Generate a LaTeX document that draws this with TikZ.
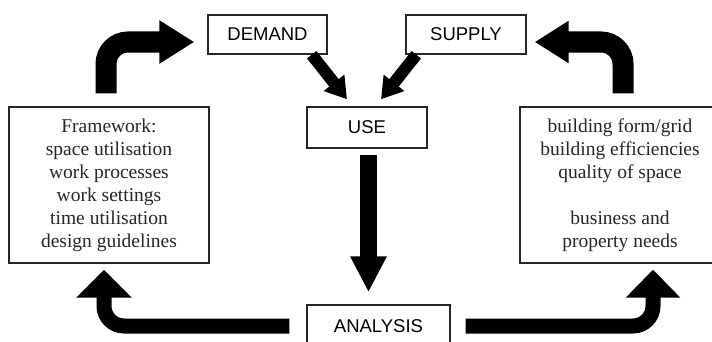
\documentclass[tikz,border=0pt]{standalone}
\usepackage{fontspec}
\setmainfont{Liberation Serif}
\setsansfont{Liberation Sans}
\usetikzlibrary{arrows.meta}

\tikzset{
  box/.style={draw=black!85, line width=1.4pt, inner sep=0pt, align=center},
  label/.style={box, font=\sffamily\fontsize{18.5}{22}\selectfont},
  notes/.style={box, font=\fontsize{19.5}{23}\selectfont, text=black!85},
  fat/.style={line width=#1, line cap=butt, line join=miter},
}

\begin{document}
\begin{tikzpicture}[x=1pt, y=1pt]
        \useasboundingbox (0,0) rectangle (712,341);
        \clip (0,0) rectangle (712,341);

        % boxes
        \node[label, minimum width=119, minimum height=39] (demand) at (267.5,306.5) {DEMAND};
        \node[label, minimum width=120, minimum height=39] (supply) at (466,306.5) {SUPPLY};
        \node[label, minimum width=120, minimum height=41] (use) at (367,213.5) {USE};
        \node[label, minimum width=143, minimum height=42] (analysis) at (378.5,15) {ANALYSIS};
        \node[notes, minimum width=200, minimum height=156] (frame) at (109,156)
          {Framework:\\ space utilisation\\ work processes\\ work settings\\ time utilisation\\ design guidelines};
        \node[notes, minimum width=200, minimum height=156] (needs) at (620,156)
          {building form/grid\\ building efficiencies\\ quality of space\\[23pt] business and\\ property needs};

        % curved arrows at the top
        \draw[fat=21pt, rounded corners=22, -{Triangle[length=35pt, width=41pt]}]
          ([shift={(-3,13)}]frame.north) |- ([shift={(-13,-7.5)}]demand.west);
        \draw[fat=21pt, rounded corners=22, -{Triangle[length=34pt, width=40pt]}]
          ([shift={(3,13)}]needs.north) |- ([shift={(8,-7.5)}]supply.east);

        % into USE
        \draw[fat=12pt, -{Triangle[length=21pt, width=25pt]}]
          ([xshift=-16]demand.south east) -- ([shift={(-20,7)}]use.north);
        \draw[fat=12pt, -{Triangle[length=21pt, width=25pt]}]
          ([xshift=11]supply.south west) -- ([shift={(14,7)}]use.north);

        % down to ANALYSIS
        \draw[fat=17pt, -{Triangle[length=36pt, width=34pt]}]
          ([shift={(1.5,-6)}]use.south) -- ([shift={(1.5,12)}]use.south |- analysis.north);

        % curved arrows at the bottom
        \draw[fat=15pt, rounded corners=20, -{Triangle[length=28pt, width=54pt]}]
          ([xshift=-17]analysis.west) -| ([shift={(-5,-6)}]frame.south);
        \draw[fat=15pt, rounded corners=20, -{Triangle[length=28pt, width=53pt]}]
          ([xshift=15]analysis.east) -| ([shift={(33,-6)}]needs.south);
      \end{tikzpicture}
\end{document}
